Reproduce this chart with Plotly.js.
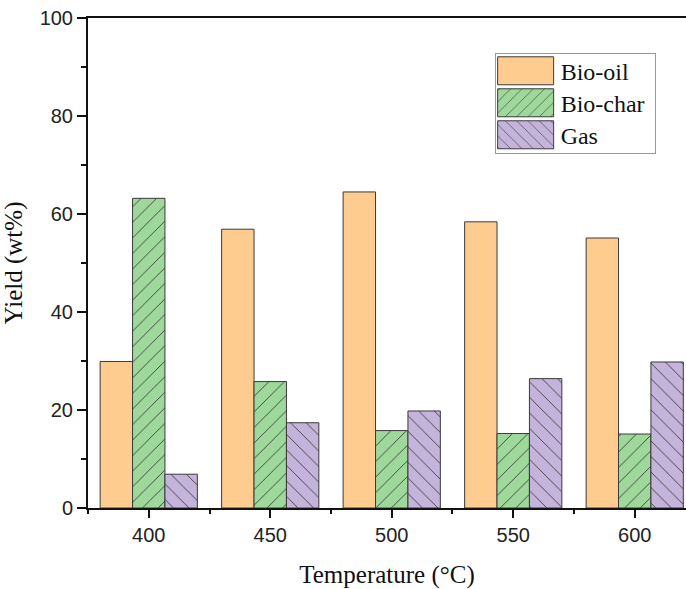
<!DOCTYPE html>
<html>
<head>
<meta charset="utf-8">
<script src="https://cdn.plot.ly/plotly-3.0.1.min.js"></script>
<style>html,body{margin:0;padding:0;background:#fff;}#chart{width:686px;height:589px;}</style>
</head>
<body>
<div id="chart"></div>
<script>
const temperatures = [400, 450, 500, 550, 600];
const bioOil = [29.9, 56.9, 64.5, 58.4, 55.1];
const bioChar = [63.2, 25.8, 15.8, 15.2, 15.1];
const gas = [6.9, 17.4, 19.8, 26.4, 29.8];
const seriesNames = ['Bio-oil', 'Bio-char', 'Gas'];
const yTicks = [0, 20, 40, 60, 80, 100];

const outline = {color: '#3a3a3a', width: 1};
const traces = [
  {type: 'bar', name: seriesNames[0], x: temperatures, y: bioOil,
   marker: {color: '#FFCC8F', line: outline}},
  {type: 'bar', name: seriesNames[1], x: temperatures, y: bioChar,
   marker: {color: '#9ED99B', line: outline,
            pattern: {shape: '/', fgcolor: '#3a3a3a', bgcolor: '#9ED99B', size: 11, solidity: 0.08, fillmode: 'replace'}}},
  {type: 'bar', name: seriesNames[2], x: temperatures, y: gas,
   marker: {color: '#C4B4DB', line: outline,
            pattern: {shape: '\\', fgcolor: '#3a3a3a', bgcolor: '#C4B4DB', size: 11, solidity: 0.08, fillmode: 'replace'}}}
];

const tickFont = {family: 'Liberation Sans, Arial, sans-serif', size: 20, color: '#222'};
const serif = 'Liberation Serif, Times New Roman, serif';

const layout = {
  width: 686, height: 589,
  margin: {l: 88, r: 0, t: 18, b: 81},
  paper_bgcolor: '#fff', plot_bgcolor: '#fff',
  barmode: 'group', bargap: 0.2, bargroupgap: 0,
  showlegend: true,
  legend: {x: 0.68, y: 0.929, xanchor: 'left', yanchor: 'top',
           bordercolor: '#999', borderwidth: 1, bgcolor: '#fff',
           font: {family: serif, size: 24, color: '#111'},
           tracegroupgap: 0, itemwidth: 60},
  xaxis: {
    range: [375, 621.1], tickvals: temperatures, ticktext: temperatures.map(String),
    showline: true, linecolor: '#111', linewidth: 2, mirror: true,
    ticks: 'outside', ticklen: 8, tickwidth: 2, tickcolor: '#111',
    minor: {tick0: 375, dtick: 50, ticks: 'outside', ticklen: 4, tickwidth: 2, tickcolor: '#111'},
    showgrid: false, zeroline: false, tickfont: tickFont,
    title: {text: 'Temperature (°C)', font: {family: serif, size: 25, color: '#111'}, standoff: 20}
  },
  yaxis: {
    range: [0, 100], tickvals: yTicks,
    showline: true, linecolor: '#111', linewidth: 2, mirror: false,
    ticks: 'outside', ticklen: 9, tickwidth: 2, tickcolor: '#111',
    minor: {dtick: 10, ticks: 'outside', ticklen: 5, tickwidth: 2, tickcolor: '#111'},
    showgrid: false, zeroline: false, tickfont: tickFont,
    title: {text: 'Yield (wt%)', font: {family: serif, size: 25, color: '#111'}, standoff: 10}
  }
};

Plotly.newPlot('chart', traces, layout, {displayModeBar: false, staticPlot: true}).then(function (gd) {
  // enlarge legend swatches and tighten row spacing to match the original figure
  const rowH = 32, pad = 2;
  const rows = gd.querySelectorAll('.legend .traces');
  rows.forEach(function (g, i) {
    const m = /translate\(([-\d.]+)[ ,]+([-\d.]+)\)/.exec(g.getAttribute('transform') || '');
    const x0 = m ? parseFloat(m[1]) : 0;
    g.setAttribute('transform', 'translate(' + x0 + ',' + (pad + rowH / 2 + i * rowH) + ')');
  });
  gd.querySelectorAll('.legend .legendpoints path').forEach(function (p) {
    p.setAttribute('d', 'M-33,-14H23V14H-33Z');
    p.style.strokeWidth = '1px';
  });
  gd.querySelectorAll('.legend .legendtext').forEach(function (t) {
    t.setAttribute('x', parseFloat(t.getAttribute('x') || 0) - 5);
  });
  const bg = gd.querySelector('.legend .bg');
  if (bg) bg.setAttribute('height', 2 * pad + rows.length * rowH);
});
</script>
</body>
</html>
